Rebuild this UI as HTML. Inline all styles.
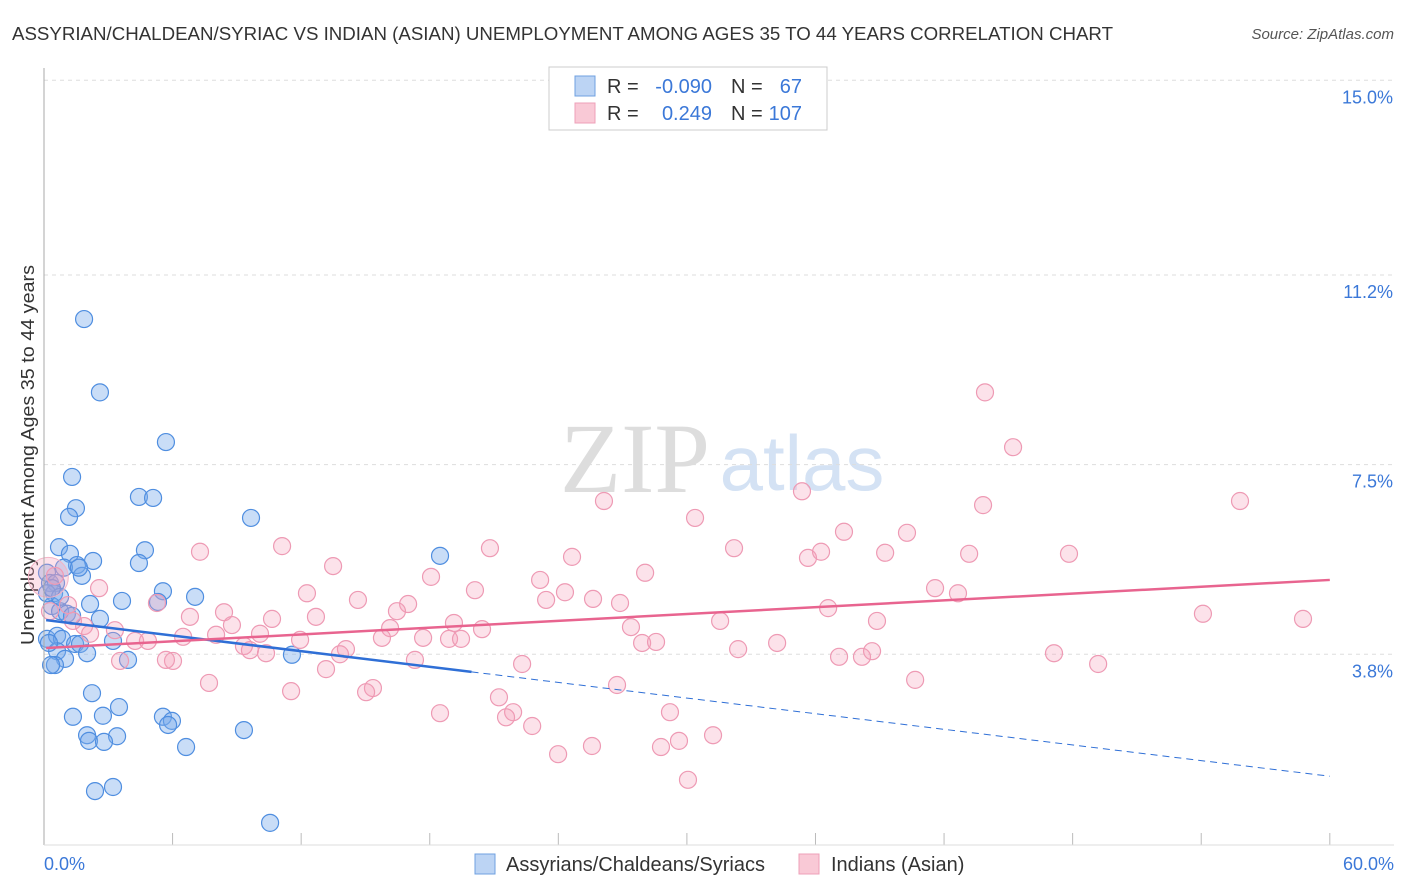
<!DOCTYPE html>
<html><head><meta charset="utf-8"><style>
body{margin:0;background:#fff;font-family:"Liberation Sans",sans-serif;}
#wrap{position:relative;width:1406px;height:892px;overflow:hidden;}
</style></head><body><div id="wrap">
<svg id="svg" width="1406" height="892" xmlns="http://www.w3.org/2000/svg">
<text x="12" y="40" font-size="18" fill="#333" textLength="1101" lengthAdjust="spacingAndGlyphs">ASSYRIAN/CHALDEAN/SYRIAC VS INDIAN (ASIAN) UNEMPLOYMENT AMONG AGES 35 TO 44 YEARS CORRELATION CHART</text>
<text x="1394" y="39" font-size="15" fill="#555" font-style="italic" text-anchor="end">Source: ZipAtlas.com</text>
<text x="635" y="492" font-size="100" fill="#ddd" font-family="Liberation Serif,serif" text-anchor="middle">ZIP</text>
<text x="802" y="490" font-size="78" fill="#d4e2f4" text-anchor="middle">atlas</text>
<text transform="translate(34,455) rotate(-90)" font-size="18" fill="#333" text-anchor="middle" textLength="380" lengthAdjust="spacingAndGlyphs">Unemployment Among Ages 35 to 44 years</text>
<g id="grid"></g><g id="pts"></g><g id="lines"></g>
<line x1="44" y1="68" x2="44" y2="845" stroke="#aaa"/>
<line x1="44" y1="845" x2="1394" y2="845" stroke="#ddd"/>
<text x="44" y="870" font-size="18" fill="#3b78d8">0.0%</text>
<text x="1394" y="870" font-size="18" fill="#3b78d8" text-anchor="end">60.0%</text>
<g>
<rect x="549" y="67" width="278" height="63" fill="#fff" stroke="#ccc"/>
<rect x="575" y="76" width="20" height="20" fill="#bcd4f4" stroke="#6fa0e0"/>
<rect x="575" y="103" width="20" height="20" fill="#f9c9d6" stroke="#eea0b8"/>
<text x="607" y="93" font-size="20" fill="#333">R =</text>
<text x="712" y="93" font-size="20" fill="#3b78d8" text-anchor="end">-0.090</text>
<text x="731" y="93" font-size="20" fill="#333">N =</text>
<text x="802" y="93" font-size="20" fill="#3b78d8" text-anchor="end">67</text>
<text x="607" y="120" font-size="20" fill="#333">R =</text>
<text x="712" y="120" font-size="20" fill="#3b78d8" text-anchor="end">0.249</text>
<text x="731" y="120" font-size="20" fill="#333">N =</text>
<text x="802" y="120" font-size="20" fill="#3b78d8" text-anchor="end">107</text>
</g>
<g>
<rect x="475" y="854" width="20" height="20" fill="#bcd4f4" stroke="#6fa0e0"/>
<text x="506" y="871" font-size="20" fill="#333">Assyrians/Chaldeans/Syriacs</text>
<rect x="799" y="854" width="20" height="20" fill="#f9c9d6" stroke="#eea0b8"/>
<text x="831" y="871" font-size="20" fill="#333">Indians (Asian)</text>
</g>
</svg>
<script>
const yTicks=[3.8,7.5,11.2,15.0];
const xTicks=[0,6,12,18,24,30,36,42,48,54,60];
const blueX=[1.87,2.61,5.69,1.31,4.43,5.09,1.49,1.17,9.66,0.70,4.71,1.21,2.29,18.48,1.54,4.43,1.77,0.93,1.63,0.14,0.28,0.56,0.47,5.55,7.05,2.15,3.64,5.32,0.37,0.75,1.07,1.31,2.61,0.14,0.61,0.84,3.22,1.45,1.68,0.61,2.01,0.98,3.92,11.57,0.51,0.33,2.24,3.50,1.35,2.75,5.55,5.97,5.79,9.33,2.01,3.41,2.10,2.80,6.63,2.38,3.22,10.55,0.14,0.75,0.23,0.37];
const blueY=[10.34,8.91,7.94,7.26,6.87,6.85,6.65,6.48,6.46,5.89,5.83,5.76,5.62,5.72,5.54,5.58,5.33,5.49,5.49,5.39,5.19,5.19,4.99,5.03,4.92,4.78,4.84,4.82,4.74,4.64,4.59,4.55,4.49,4.10,4.16,4.10,4.06,4.00,4.00,3.86,3.82,3.71,3.69,3.79,3.59,3.59,3.04,2.77,2.58,2.60,2.58,2.50,2.42,2.32,2.22,2.20,2.11,2.09,1.99,1.13,1.21,0.51,4.99,4.92,4.02,5.09];
const pinkX=[43.91,45.22,26.13,35.37,43.82,55.81,30.38,37.33,40.27,32.20,7.28,11.11,20.81,24.64,35.65,36.26,39.25,43.17,47.83,13.49,28.05,18.06,23.15,2.57,20.11,12.27,41.58,24.31,25.62,42.65,23.43,26.88,14.65,16.99,16.47,5.27,8.40,6.81,10.64,12.69,1.12,36.59,54.08,58.75,31.55,38.87,19.13,20.44,27.39,16.15,8.77,10.08,3.31,6.49,8.03,4.25,4.85,11.95,15.77,17.69,18.90,19.46,27.91,28.56,34.21,32.39,9.33,9.61,10.36,14.09,13.81,3.55,6.02,5.69,17.31,22.31,37.10,38.17,38.64,47.13,49.19,13.16,7.70,15.35,15.03,11.53,26.74,40.65,21.23,21.89,21.56,18.48,29.21,22.78,31.22,25.57,28.79,29.63,23.99,30.05,0.51,0.28,1.87,2.15,1.35];
const pinkY=[8.91,7.84,6.79,6.98,6.71,6.79,6.46,6.19,6.17,5.87,5.80,5.91,5.87,5.70,5.68,5.80,5.78,5.76,5.76,5.52,5.39,5.31,5.25,5.09,5.05,4.99,5.09,5.01,4.88,4.99,4.86,4.80,4.86,4.78,4.64,4.80,4.62,4.53,4.49,4.53,4.76,4.70,4.59,4.49,4.45,4.45,4.41,4.29,4.33,4.31,4.37,4.20,4.27,4.14,4.18,4.06,4.06,4.08,4.12,4.12,4.10,4.10,4.02,4.04,4.02,3.90,3.96,3.88,3.82,3.90,3.80,3.67,3.67,3.69,3.69,3.61,3.75,3.75,3.86,3.82,3.61,3.51,3.24,3.14,3.06,3.08,3.20,3.30,2.96,2.67,2.57,2.65,2.67,2.40,2.22,2.01,1.99,2.11,1.85,1.35,5.33,4.64,4.35,4.20,4.45];
const blueTrend=[4.47,1.42];
const pinkTrend=[3.92,5.25];
const sx=v=>44+v*21.43;
const sy=v=>849-v*51.25;
const NS='http://www.w3.org/2000/svg';
function mk(t,a,p){const e=document.createElementNS(NS,t);for(const k in a)e.setAttribute(k,a[k]);p.appendChild(e);return e;}
const grid=document.getElementById('grid'),pts=document.getElementById('pts'),lines=document.getElementById('lines'),svg=document.getElementById('svg');
yTicks.forEach(t=>{
 const l=mk('line',{x1:44,x2:1394,y1:sy(t),y2:sy(t),stroke:'#ddd','stroke-dasharray':'4,4'},grid);
 
 
 const tx=mk('text',{x:1393,y:sy(t)+23,'font-size':18,fill:'#3b78d8','text-anchor':'end'},svg);
 tx.textContent=t.toFixed(1)+'%';
 
 
});
xTicks.forEach(t=>{
 const l=mk('line',{x1:sx(t),x2:sx(t),y1:833,y2:845,stroke:'#bbb'},grid);
 
 
});
blueX.forEach((x,i)=>{
 const c=mk('circle',{cx:sx(x),cy:sy(blueY[i]),r:8.5,fill:'rgba(120,170,235,0.4)',stroke:'#4f8ee0','stroke-width':1.2},pts);
 
 
});
pinkX.forEach((x,i)=>{
 const c=mk('circle',{cx:sx(x),cy:sy(pinkY[i]),r:8.5,fill:'rgba(245,160,185,0.3)',stroke:'#ee9ab4','stroke-width':1.2},pts);
 
 
});
const big=mk('circle',{cx:sx(0.2),cy:sy(5.3),r:20,fill:'rgba(245,160,185,0.3)',stroke:'#f3b4c6'},pts);


const bAt=x=>blueTrend[0]+(blueTrend[1]-blueTrend[0])*x/60;
const pAt=x=>pinkTrend[0]+(pinkTrend[1]-pinkTrend[0])*x/60;
const b1=mk('line',{x1:sx(0.1),y1:sy(bAt(0.1)),x2:sx(19.95),y2:sy(bAt(19.95)),stroke:'#2f6fd6','stroke-width':2.5},lines);


const b2=mk('line',{x1:sx(19.95),y1:sy(bAt(19.95)),x2:sx(60),y2:sy(bAt(60)),stroke:'#2f6fd6','stroke-width':1,'stroke-dasharray':'7,5'},lines);


const p1=mk('line',{x1:sx(0.1),y1:sy(pAt(0.1)),x2:sx(60),y2:sy(pAt(60)),stroke:'#e8648f','stroke-width':2.5},lines);


</script>
</div></body></html>
